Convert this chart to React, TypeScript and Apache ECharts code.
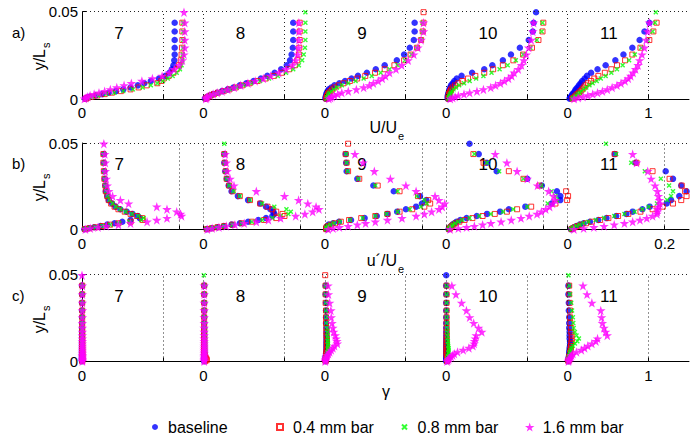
import React, { useEffect, useRef } from 'react';
import * as echarts from 'echarts';

const FONT = '"Liberation Sans", Arial, Helvetica, sans-serif';

// wall-normal positions y/Ls of the measurement points (first entry = extra top point)
const yPositions = [0.0496, 0.0436, 0.0386, 0.0337, 0.0293, 0.0254, 0.0221, 0.0193, 0.0170, 0.0150, 0.0132, 0.0117, 0.0103, 0.0090, 0.0078, 0.0066, 0.0055, 0.0045, 0.0036, 0.0028, 0.0020, 0.0013, 0.0007, 0.0002];

const stationNames = ['7', '8', '9', '10', '11'];
const meanOffsets = [0, 1.5, 3, 4.5, 6];
const rmsOffsets = [0, 0.25, 0.5, 0.75, 1.0];
const legendNames = ['baseline', '0.4 mm bar', '0.8 mm bar', '1.6 mm bar'];
const meanTickLabels = ['0', '0', '0', '0', '0', '1'];
const rmsTickLabels = ['0', '0', '0', '0', '0', '0.2'];
const gammaTickLabels = ['0', '0', '0', '0', '0', '1'];
const yTickLabels = ['0', '0.05'];
const panelLabels = ['a)', 'b)', 'c)'];

// ---- a) U/Ue ----
const aBaseline = [
  [null, 1.145, 1.145, 1.145, 1.145, 1.145, 1.14, 1.13, 1.11, 1.08, 1.03, 0.95, 0.85, 0.77, 0.69, 0.60, 0.51, 0.42, 0.33, 0.25, 0.17, 0.09, 0.06, 0.04],
  [null, 1.11, 1.11, 1.11, 1.105, 1.09, 1.07, 1.03, 0.96, 0.88, 0.79, 0.71, 0.62, 0.53, 0.45, 0.37, 0.30, 0.23, 0.17, 0.12, 0.08, 0.05, 0.03, 0.02],
  [null, 1.11, 1.11, 1.10, 1.05, 0.98, 0.89, 0.74, 0.63, 0.52, 0.41, 0.33, 0.25, 0.18, 0.12, 0.08, 0.05, 0.035, 0.025, 0.02, 0.015, 0.012, 0.01, 0.01],
  [1.11, 1.08, 1.07, 1.02, 0.91, 0.80, 0.70, 0.57, 0.47, 0.32, 0.19, 0.13, 0.10, 0.08, 0.06, 0.05, 0.04, 0.035, 0.03, 0.025, 0.02, 0.02, 0.02, 0.02],
  [null, 1.01, 0.95, 0.89, 0.80, 0.69, 0.59, 0.47, 0.37, 0.29, 0.24, 0.21, 0.18, 0.16, 0.14, 0.12, 0.10, 0.09, 0.075, 0.06, 0.05, 0.04, 0.03, 0.025],
];
const aBar04 = [
  [null, 1.24, 1.24, 1.24, 1.235, 1.23, 1.22, 1.20, 1.17, 1.13, 1.07, 1.01, 0.98, 0.93, 0.80, 0.70, 0.60, 0.48, 0.37, 0.28, 0.19, 0.12, 0.07, 0.05],
  [null, 1.19, 1.19, 1.19, 1.185, 1.18, 1.16, 1.13, 1.06, 0.97, 0.87, 0.77, 0.67, 0.57, 0.48, 0.40, 0.32, 0.25, 0.18, 0.13, 0.09, 0.06, 0.04, 0.03],
  [1.22, 1.22, 1.21, 1.19, 1.14, 1.06, 0.98, 0.86, 0.74, 0.62, 0.50, 0.40, 0.31, 0.23, 0.17, 0.12, 0.09, 0.07, 0.05, 0.04, 0.03, 0.025, 0.02, 0.02],
  [null, 1.20, 1.19, 1.14, 1.06, 0.95, 0.83, 0.70, 0.58, 0.47, 0.36, 0.27, 0.20, 0.15, 0.11, 0.08, 0.06, 0.05, 0.04, 0.035, 0.03, 0.03, 0.03, 0.03],
  [null, 1.10, 1.06, 1.01, 0.90, 0.80, 0.71, 0.61, 0.54, 0.46, 0.38, 0.33, 0.29, 0.25, 0.22, 0.20, 0.18, 0.16, 0.14, 0.12, 0.10, 0.09, 0.07, 0.06],
];
const aBar08 = [
  [null, 1.25, 1.25, 1.25, 1.25, 1.245, 1.24, 1.23, 1.21, 1.17, 1.12, 1.06, 1.00, 0.93, 0.85, 0.75, 0.63, 0.51, 0.40, 0.30, 0.20, 0.12, 0.08, 0.05],
  [1.26, 1.26, 1.26, 1.26, 1.255, 1.24, 1.22, 1.18, 1.11, 1.02, 0.92, 0.81, 0.70, 0.59, 0.50, 0.41, 0.33, 0.26, 0.19, 0.14, 0.09, 0.06, 0.04, 0.03],
  [null, 1.21, 1.21, 1.19, 1.14, 1.07, 0.99, 0.90, 0.80, 0.69, 0.58, 0.48, 0.38, 0.29, 0.21, 0.15, 0.11, 0.08, 0.06, 0.05, 0.04, 0.03, 0.03, 0.02],
  [null, 1.19, 1.18, 1.12, 1.04, 0.95, 0.86, 0.76, 0.66, 0.56, 0.46, 0.37, 0.29, 0.22, 0.16, 0.12, 0.09, 0.07, 0.06, 0.05, 0.04, 0.04, 0.03, 0.03],
  [1.09, 1.08, 1.05, 0.99, 0.91, 0.83, 0.76, 0.68, 0.61, 0.54, 0.47, 0.41, 0.36, 0.31, 0.27, 0.23, 0.20, 0.17, 0.15, 0.13, 0.11, 0.09, 0.07, 0.06],
];
const aBar16 = [
  [1.26, 1.27, 1.27, 1.27, 1.27, 1.26, 1.24, 1.20, 1.14, 1.08, 0.99, 0.87, 0.74, 0.61, 0.52, 0.43, 0.35, 0.28, 0.21, 0.15, 0.10, 0.07, 0.05, 0.03],
  [null, 1.18, 1.18, 1.18, 1.175, 1.165, 1.14, 1.10, 1.02, 0.93, 0.83, 0.74, 0.64, 0.55, 0.46, 0.38, 0.30, 0.23, 0.17, 0.12, 0.08, 0.05, 0.04, 0.03],
  [null, 1.22, 1.22, 1.19, 1.15, 1.10, 1.03, 0.95, 0.88, 0.80, 0.75, 0.71, 0.66, 0.60, 0.55, 0.48, 0.39, 0.29, 0.21, 0.16, 0.12, 0.09, 0.07, 0.05],
  [null, 1.08, 1.07, 1.05, 1.02, 0.99, 0.96, 0.93, 0.89, 0.84, 0.81, 0.77, 0.72, 0.67, 0.61, 0.55, 0.46, 0.38, 0.29, 0.22, 0.15, 0.11, 0.08, 0.05],
  [null, 1.01, 0.99, 0.97, 0.95, 0.92, 0.89, 0.87, 0.84, 0.81, 0.78, 0.75, 0.71, 0.66, 0.61, 0.55, 0.49, 0.43, 0.37, 0.31, 0.25, 0.19, 0.13, 0.08],
];

// ---- b) u'/Ue ----
const bBaseline = [
  [null, 0.045, 0.045, 0.046, 0.047, 0.048, 0.049, 0.052, 0.055, 0.062, 0.069, 0.079, 0.092, 0.104, 0.115, 0.119, 0.100, 0.083, 0.067, 0.052, 0.038, 0.025, 0.014, 0.005],
  [null, 0.043, 0.043, 0.045, 0.048, 0.052, 0.058, 0.071, 0.092, 0.117, 0.129, 0.138, 0.144, 0.146, 0.142, 0.129, 0.113, 0.092, 0.075, 0.058, 0.042, 0.029, 0.017, 0.007],
  [null, 0.043, 0.044, 0.045, 0.067, 0.100, 0.142, 0.196, 0.209, 0.200, 0.188, 0.167, 0.149, 0.129, 0.107, 0.082, 0.054, 0.029, 0.017, 0.008, 0.005, 0.003, 0.003, 0.003],
  [0.048, 0.067, 0.084, 0.104, 0.167, 0.197, 0.228, 0.235, 0.235, 0.217, 0.163, 0.129, 0.111, 0.084, 0.063, 0.042, 0.029, 0.021, 0.017, 0.013, 0.010, 0.008, 0.007, 0.005],
  [null, 0.097, 0.140, 0.202, 0.217, 0.234, 0.245, 0.230, 0.213, 0.204, 0.169, 0.154, 0.134, 0.121, 0.100, 0.080, 0.063, 0.046, 0.033, 0.025, 0.018, 0.013, 0.010, 0.007],
];
const bBar04 = [
  [null, 0.044, 0.044, 0.045, 0.046, 0.048, 0.049, 0.052, 0.055, 0.060, 0.067, 0.075, 0.088, 0.100, 0.113, 0.124, 0.125, 0.100, 0.075, 0.058, 0.042, 0.028, 0.015, 0.006],
  [null, 0.043, 0.044, 0.046, 0.048, 0.053, 0.060, 0.075, 0.096, 0.117, 0.132, 0.142, 0.150, 0.163, 0.167, 0.150, 0.125, 0.100, 0.079, 0.060, 0.043, 0.029, 0.017, 0.007],
  [0.048, 0.043, 0.045, 0.048, 0.071, 0.109, 0.154, 0.192, 0.213, 0.217, 0.205, 0.180, 0.154, 0.129, 0.104, 0.075, 0.050, 0.033, 0.021, 0.013, 0.007, 0.004, 0.003, 0.003],
  [null, 0.056, 0.077, 0.129, 0.159, 0.192, 0.247, 0.251, 0.249, 0.225, 0.175, 0.146, 0.125, 0.100, 0.075, 0.054, 0.038, 0.027, 0.020, 0.015, 0.012, 0.009, 0.008, 0.006],
  [null, 0.097, 0.142, 0.175, 0.210, 0.235, 0.242, 0.245, 0.234, 0.217, 0.196, 0.175, 0.150, 0.125, 0.104, 0.084, 0.067, 0.050, 0.038, 0.028, 0.021, 0.015, 0.011, 0.008],
];
const bBar08 = [
  [null, 0.045, 0.045, 0.046, 0.047, 0.048, 0.050, 0.053, 0.057, 0.063, 0.070, 0.079, 0.090, 0.103, 0.116, 0.127, 0.122, 0.098, 0.076, 0.058, 0.042, 0.028, 0.015, 0.006],
  [0.043, 0.043, 0.044, 0.046, 0.048, 0.053, 0.062, 0.075, 0.096, 0.121, 0.146, 0.171, 0.180, 0.175, 0.159, 0.142, 0.121, 0.100, 0.079, 0.060, 0.043, 0.029, 0.017, 0.007],
  [null, 0.044, 0.045, 0.047, 0.069, 0.104, 0.150, 0.190, 0.205, 0.210, 0.198, 0.175, 0.150, 0.127, 0.104, 0.078, 0.052, 0.031, 0.019, 0.011, 0.006, 0.004, 0.003, 0.003],
  [null, 0.058, 0.084, 0.109, 0.159, 0.196, 0.217, 0.225, 0.228, 0.209, 0.167, 0.138, 0.117, 0.092, 0.068, 0.048, 0.033, 0.025, 0.018, 0.014, 0.011, 0.008, 0.007, 0.005],
  [0.079, 0.100, 0.131, 0.159, 0.192, 0.209, 0.217, 0.213, 0.205, 0.184, 0.167, 0.154, 0.138, 0.117, 0.096, 0.075, 0.058, 0.043, 0.033, 0.025, 0.018, 0.013, 0.010, 0.007],
];
const bBar16 = [
  [0.045, 0.047, 0.048, 0.048, 0.050, 0.052, 0.055, 0.063, 0.079, 0.096, 0.154, 0.175, 0.195, 0.203, 0.205, 0.175, 0.154, 0.134, 0.100, 0.075, 0.050, 0.033, 0.017, 0.007],
  [null, 0.045, 0.047, 0.049, 0.055, 0.063, 0.109, 0.167, 0.196, 0.215, 0.232, 0.238, 0.225, 0.209, 0.190, 0.159, 0.134, 0.109, 0.084, 0.065, 0.047, 0.032, 0.018, 0.008],
  [null, 0.062, 0.079, 0.102, 0.135, 0.167, 0.188, 0.227, 0.235, 0.247, 0.242, 0.235, 0.220, 0.205, 0.188, 0.159, 0.129, 0.104, 0.084, 0.067, 0.048, 0.030, 0.017, 0.007],
  [null, 0.101, 0.125, 0.146, 0.167, 0.188, 0.211, 0.221, 0.225, 0.219, 0.213, 0.205, 0.196, 0.187, 0.171, 0.154, 0.134, 0.113, 0.092, 0.075, 0.058, 0.042, 0.025, 0.008],
  [null, 0.134, 0.142, 0.165, 0.172, 0.180, 0.185, 0.187, 0.189, 0.190, 0.187, 0.185, 0.185, 0.184, 0.175, 0.163, 0.149, 0.134, 0.117, 0.096, 0.075, 0.054, 0.033, 0.013],
];

// ---- c) gamma ----
const cBaseline = [
  [null, 0, 0, 0, 0, 0, 0, 0, 0, 0, 0, 0, 0, 0, 0, 0, 0, 0, 0, 0, 0, 0, 0, 0],
  [null, 0.01, 0.01, 0.01, 0.01, 0.01, 0.01, 0.01, 0.01, 0.01, 0.01, 0.01, 0.01, 0.01, 0.01, 0.01, 0.01, 0.01, 0.01, 0.01, 0.01, 0.01, 0.01, 0.01],
  [null, 0.01, 0.01, 0.015, 0.015, 0.015, 0.015, 0.02, 0.02, 0.02, 0.02, 0.02, 0.02, 0.02, 0.02, 0.02, 0.02, 0.015, 0.015, 0.01, 0.01, 0.01, 0.01, 0.01],
  [0, 0, 0, 0, 0, 0, 0, 0, 0, 0, 0, 0, 0, 0, 0, 0, 0, 0, 0, 0, 0, 0, 0, 0],
  [null, 0.01, 0.01, 0.015, 0.015, 0.02, 0.02, 0.02, 0.025, 0.025, 0.025, 0.03, 0.03, 0.03, 0.025, 0.025, 0.02, 0.02, 0.02, 0.015, 0.015, 0.01, 0.01, 0.01],
];
const cBar04 = [
  [null, 0.003, 0.003, 0.003, 0.003, 0.003, 0.003, 0.003, 0.003, 0.003, 0.003, 0.003, 0.003, 0.003, 0.003, 0.003, 0.003, 0.003, 0.003, 0.003, 0.003, 0.003, 0.003, 0.003],
  [null, 0.01, 0.01, 0.01, 0.01, 0.01, 0.01, 0.01, 0.01, 0.01, 0.01, 0.01, 0.01, 0.01, 0.01, 0.01, 0.01, 0.01, 0.015, 0.02, 0.03, 0.04, 0.04, 0.02],
  [0.005, 0.01, 0.01, 0.01, 0.015, 0.015, 0.015, 0.02, 0.02, 0.02, 0.025, 0.025, 0.025, 0.025, 0.025, 0.025, 0.02, 0.02, 0.02, 0.015, 0.015, 0.01, 0.01, 0.01],
  [null, 0.005, 0.005, 0.005, 0.005, 0.005, 0.005, 0.005, 0.005, 0.005, 0.005, 0.005, 0.005, 0.005, 0.005, 0.005, 0.005, 0.005, 0.005, 0.01, 0.015, 0.02, 0.015, 0.01],
  [null, 0.02, 0.02, 0.025, 0.03, 0.03, 0.035, 0.04, 0.045, 0.05, 0.05, 0.05, 0.045, 0.04, 0.04, 0.035, 0.03, 0.03, 0.025, 0.02, 0.02, 0.015, 0.01, 0.01],
];
const cBar08 = [
  [null, 0.003, 0.003, 0.003, 0.003, 0.003, 0.003, 0.003, 0.003, 0.003, 0.003, 0.003, 0.003, 0.003, 0.003, 0.003, 0.003, 0.003, 0.003, 0.003, 0.003, 0.003, 0.003, 0.003],
  [0.005, 0.012, 0.012, 0.012, 0.012, 0.012, 0.012, 0.012, 0.012, 0.012, 0.012, 0.012, 0.012, 0.012, 0.012, 0.012, 0.012, 0.012, 0.012, 0.012, 0.012, 0.012, 0.012, 0.012],
  [null, 0.01, 0.01, 0.015, 0.015, 0.02, 0.02, 0.025, 0.03, 0.03, 0.035, 0.035, 0.04, 0.04, 0.04, 0.035, 0.035, 0.03, 0.025, 0.02, 0.02, 0.015, 0.01, 0.01],
  [null, 0.005, 0.005, 0.005, 0.005, 0.005, 0.01, 0.01, 0.01, 0.015, 0.015, 0.02, 0.02, 0.025, 0.03, 0.03, 0.03, 0.025, 0.02, 0.02, 0.015, 0.01, 0.01, 0.01],
  [0.01, 0.02, 0.03, 0.045, 0.055, 0.065, 0.07, 0.075, 0.09, 0.11, 0.14, 0.12, 0.09, 0.065, 0.05, 0.04, 0.03, 0.025, 0.02, 0.015, 0.015, 0.01, 0.01, 0.01],
];
const cBar16 = [
  [0, 0.005, 0.005, 0.005, 0.005, 0.005, 0.005, 0.005, 0.005, 0.005, 0.005, 0.005, 0.005, 0.005, 0.005, 0.005, 0.005, 0.005, 0.005, 0.005, 0.005, 0.005, 0.005, 0.005],
  [null, 0.01, 0.01, 0.01, 0.01, 0.01, 0.01, 0.01, 0.01, 0.01, 0.01, 0.01, 0.01, 0.01, 0.01, 0.01, 0.01, 0.01, 0.01, 0.01, 0.01, 0.01, 0.01, 0.01],
  [null, 0.04, 0.045, 0.06, 0.075, 0.08, 0.09, 0.10, 0.11, 0.13, 0.14, 0.15, 0.155, 0.12, 0.10, 0.08, 0.06, 0.045, 0.03, 0.02, 0.015, 0.01, 0.008, 0.005],
  [null, 0.07, 0.12, 0.19, 0.25, 0.29, 0.34, 0.40, 0.44, 0.37, 0.36, 0.35, 0.345, 0.33, 0.28, 0.21, 0.14, 0.10, 0.08, 0.06, 0.04, 0.03, 0.02, 0.01],
  [null, 0.19, 0.24, 0.30, 0.41, 0.42, 0.43, 0.45, 0.47, 0.49, 0.37, 0.35, 0.30, 0.25, 0.21, 0.17, 0.11, 0.065, 0.05, 0.04, 0.03, 0.02, 0.015, 0.01],
];

const STAR = 'path://M50,2L61.8,38.2L100,38.2L69.1,61.8L80.9,97.6L50,75.5L19.1,97.6L30.9,61.8L0,38.2L38.2,38.2Z';
const XMARK = 'path://M0,0L10,10M10,0L0,10';
const SQUARE = 'path://M0,0L10,0L10,10L0,10Z';

const markerStyles: any[] = [
  { symbol: 'circle', symbolSize: 6.5, itemStyle: { color: '#0000ff' } },
  { symbol: SQUARE, symbolSize: 5, itemStyle: { color: 'rgba(255,255,255,0)', borderColor: '#ff0000', borderWidth: 1 } },
  { symbol: XMARK, symbolSize: 4, itemStyle: { color: 'rgba(255,255,255,0)', borderColor: '#00ff00', borderWidth: 1.4 } },
  { symbol: STAR, symbolSize: 9.5, itemStyle: { color: '#ff00ff' } },
];

const rows = [
  {
    data: [aBaseline, aBar04, aBar08, aBar16], offsets: meanOffsets, max: 7.5,
    labelValues: [0, 1.5, 3, 4.5, 6, 7], tickLabels: meanTickLabels,
    tickValues: [0, 1, 1.5, 2.5, 3, 4, 4.5, 5.5, 6, 7], gridLines: [1, 1.5, 2.5, 3, 4, 4.5, 5.5, 6, 7],
    labelDx: 0.40, top: 11.5, height: 87.5,
  },
  {
    data: [bBaseline, bBar04, bBar08, bBar16], offsets: rmsOffsets, max: 1.25,
    labelValues: [0, 0.25, 0.5, 0.75, 1.0, 1.2], tickLabels: rmsTickLabels,
    tickValues: [0, 0.2, 0.25, 0.45, 0.5, 0.7, 0.75, 0.95, 1.0, 1.2], gridLines: [0.2, 0.25, 0.45, 0.5, 0.7, 0.75, 0.95, 1.0, 1.2],
    labelDx: 0.0667, top: 143, height: 86.5,
  },
  {
    data: [cBaseline, cBar04, cBar08, cBar16], offsets: meanOffsets, max: 7.5,
    labelValues: [0, 1.5, 3, 4.5, 6, 7], tickLabels: gammaTickLabels,
    tickValues: [0, 1, 1.5, 2.5, 3, 4, 4.5, 5.5, 6, 7], gridLines: [1, 1.5, 2.5, 3, 4, 4.5, 5.5, 6, 7],
    labelDx: 0.40, top: 274.5, height: 87,
  },
];

function toPoints(stationVals: (number | null)[][], offsets: number[]) {
  const pts: number[][] = [];
  stationVals.forEach((vals, si) => {
    vals.forEach((v, i) => {
      if (v !== null) pts.push([offsets[si] + v, yPositions[i]]);
    });
  });
  return pts;
}

function buildOption() {
  const grid: any[] = [];
  const xAxis: any[] = [];
  const yAxis: any[] = [];
  const series: any[] = [];
  rows.forEach((row, gi) => {
    grid.push({ left: 82, top: row.top, width: 607, height: row.height, outerBoundsMode: 'none' });
    xAxis.push({
      gridIndex: gi, type: 'value', min: 0, max: row.max,
      axisLine: { show: true, onZero: false, lineStyle: { color: '#000', width: 1 } },
      axisTick: { show: true, inside: true, length: 4, customValues: row.tickValues, lineStyle: { color: '#000' } },
      axisLabel: {
        show: true, customValues: row.labelValues, margin: 6, fontSize: 15, color: '#000', fontFamily: FONT, hideOverlap: false,
        formatter: (v: number) => {
          const idx = row.labelValues.findIndex((l) => Math.abs(l - v) < 1e-6);
          return idx >= 0 ? row.tickLabels[idx] : '';
        },
      },
      splitLine: { show: false },
    });
    yAxis.push({
      gridIndex: gi, type: 'value', min: 0, max: 0.05, interval: 0.05,
      axisLine: { show: true, onZero: false, lineStyle: { color: '#000', width: 1 } },
      axisTick: { show: true, inside: true, length: 5, lineStyle: { color: '#000' } },
      axisLabel: {
        margin: 4, fontSize: 15, color: '#000', fontFamily: FONT,
        formatter: (v: number) => (v < 0.001 ? yTickLabels[0] : yTickLabels[1]),
      },
      splitLine: { show: false },
    });
    // station numbers + dotted grid
    series.push({
      type: 'scatter', xAxisIndex: gi, yAxisIndex: gi, silent: true, z: 1,
      symbolSize: 0,
      data: stationNames.map((s, i) => [row.offsets[i] + row.labelDx, 0.0376, s]),
      label: {
        show: true, position: 'right', distance: 0, fontSize: 17, color: '#000', opacity: 1,
        textBorderWidth: 0, fontFamily: FONT,
        formatter: (p: any) => p.value[2],
      },
      markLine: {
        silent: true, symbol: ['none', 'none'], label: { show: false },
        lineStyle: { type: [1, 3], color: '#222', width: 1 },
        data: [...row.gridLines.map((x) => ({ xAxis: x })), { yAxis: 0.05 }],
      },
    });
    row.data.forEach((d, si) => {
      series.push({
        type: 'scatter', name: legendNames[si], xAxisIndex: gi, yAxisIndex: gi, silent: true, z: 2 + si,
        symbol: markerStyles[si].symbol, symbolSize: markerStyles[si].symbolSize, itemStyle: markerStyles[si].itemStyle,
        data: toPoints(d as any, row.offsets),
      });
    });
  });

  const legendLefts = [152, 276, 401, 525];
  const legendIconH = [6, 6, 5, 9];
  const legend = legendNames.map((n, i) => ({
    data: [n], left: legendLefts[i], top: 419, itemWidth: 16, itemHeight: legendIconH[i], itemGap: 0, padding: 0,
    selectedMode: false, textStyle: { fontSize: 16, color: '#000', fontFamily: FONT },
  }));

  const txt = (text: string, x: number, y: number, size: number, align = 'left') => ({
    type: 'text', x, y, silent: true,
    style: { text, fontSize: size, fontFamily: FONT, fill: '#000', textAlign: align, textVerticalAlign: 'middle' },
  });
  const yTitle = (cy: number) => ({
    type: 'group', x: 39.5, y: cy, rotation: Math.PI / 2, silent: true,
    children: [txt('y/L', 6, 0, 16, 'right'), txt('s', 7, 6, 11, 'left')],
  });
  const graphic = [
    txt(panelLabels[0], 12, 32.5, 15), txt(panelLabels[1], 12, 163.5, 15), txt(panelLabels[2], 12, 295, 15),
    yTitle(55), yTitle(186), yTitle(318),
    txt('U/U', 397, 127.5, 16, 'right'), txt('e', 398, 136, 11),
    txt('u\u00B4/U', 397, 260, 16, 'right'), txt('e', 398, 269, 11),
    txt('\u03B3', 386, 391.5, 16, 'center'),
  ];

  return {
    animation: false,
    backgroundColor: '#fff',
    textStyle: { fontFamily: FONT },
    grid, xAxis, yAxis, series, legend, graphic,
  };
}

export default function App() {
  const ref = useRef<HTMLDivElement>(null);
  useEffect(() => {
    document.body.style.margin = '0';
    const chart = echarts.init(ref.current!, null, { renderer: 'svg' });
    chart.setOption(buildOption() as any);
    return () => chart.dispose();
  }, []);
  return <div ref={ref} style={{ width: 699, height: 435 }} />;
}
